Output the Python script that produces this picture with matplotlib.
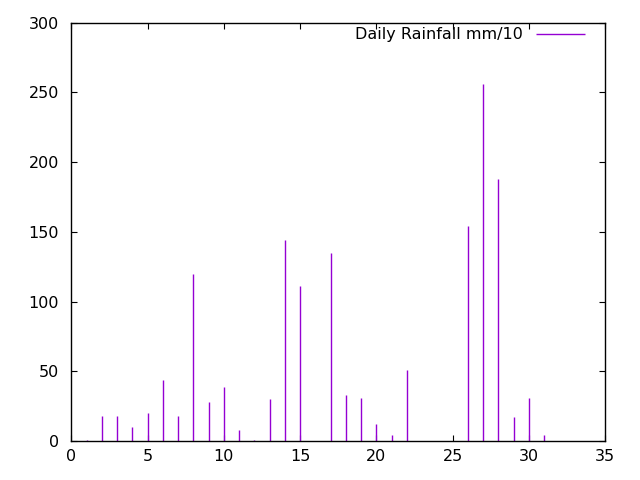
import matplotlib
matplotlib.use('Agg')
import matplotlib.pyplot as plt

# daily rainfall (mm/10)
days = list(range(1, 32))
rain = [1, 18, 18, 10, 20, 44, 18, 120, 28, 39,
        8, 1, 30, 144, 111, 0, 135, 33, 31, 12,
        4, 51, 0, 0, 0, 154, 256, 188, 17, 31,
        4]

plt.rcParams['font.family'] = ['DejaVu Sans']
plt.rcParams['font.size'] = 11.5

fig = plt.figure(figsize=(6.4, 4.8), dpi=100)
ax = fig.add_axes([0.1117, 0.0813, 0.9453 - 0.1117, 0.953 - 0.0813])

ax.vlines(days, 0, rain, colors='#9400d3', linewidth=1.0, label='Daily Rainfall mm/10')

ax.set_xlim(0, 35)
ax.set_ylim(0, 300)
ax.set_xticks(range(0, 36, 5))
ax.set_yticks(range(0, 301, 50))
ax.tick_params(direction='in', length=4.5, width=0.8, top=True, right=True)
ax.tick_params(axis='x', pad=6)
ax.tick_params(axis='y', pad=9)
for s in ax.spines.values():
    s.set_linewidth(1.0)

ax.legend(loc='upper right', frameon=False, markerfirst=False,
          handlelength=3.05, handletextpad=0.8, borderaxespad=0.2,
          bbox_to_anchor=(0.98, 1.012))

fig.savefig('out.png', dpi=100)
